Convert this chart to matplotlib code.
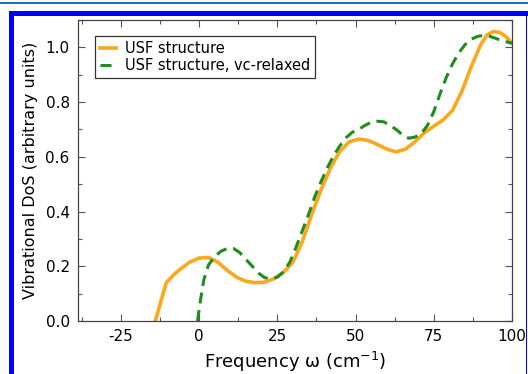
"""
Vibrational density of states for the USF structure, before and after
variable-cell relaxation.
"""

import matplotlib.pyplot as plt
from matplotlib.patches import Rectangle
from matplotlib.ticker import MultipleLocator

plt.rcParams["font.family"] = ["DejaVu Sans"]
plt.rcParams["axes.unicode_minus"] = False

# %% Data
usf_freq = [
    -14.0, -12.0, -10.5, -8.0, -6.0, -3.0, 0.0, 3.0, 6.0, 9.0, 12.0, 15.0,
    18.0, 21.0, 24.0, 27.0, 30.0, 33.0, 36.0, 39.0, 42.0, 45.0, 48.0, 51.0,
    54.0, 57.0, 60.0, 63.0, 66.0, 69.0, 72.0, 75.0, 78.0, 81.0, 84.0, 87.0,
    90.0, 92.0, 94.0, 96.0, 98.0, 100.0,
]
usf_dos = [
    0.000, 0.080, 0.140, 0.170, 0.190, 0.215, 0.230, 0.232, 0.215, 0.185,
    0.160, 0.145, 0.140, 0.142, 0.155, 0.178, 0.215, 0.290, 0.390, 0.480,
    0.560, 0.620, 0.655, 0.665, 0.660, 0.645, 0.628, 0.618, 0.628, 0.655,
    0.688, 0.712, 0.735, 0.770, 0.840, 0.930, 1.010, 1.045, 1.058, 1.055,
    1.040, 1.015,
]

relaxed_freq = [
    -0.5, 0.5, 1.5, 3.0, 5.0, 7.0, 9.0, 11.0, 13.0, 15.0, 17.0, 19.0, 21.0,
    23.0, 25.0, 27.0, 29.0, 31.0, 33.0, 35.0, 37.0, 39.0, 41.0, 43.0, 45.0,
    47.0, 49.0, 51.0, 53.0, 55.0, 57.0, 59.0, 61.0, 63.0, 65.0, 67.0, 69.0,
    71.0, 73.0, 75.0, 77.0, 79.0, 81.0, 83.0, 85.0, 87.0, 89.0, 91.0, 93.0,
    95.0, 97.0, 99.0, 100.0,
]
relaxed_dos = [
    0.000, 0.080, 0.150, 0.205, 0.235, 0.255, 0.265, 0.265, 0.250, 0.225,
    0.200, 0.175, 0.158, 0.155, 0.160, 0.180, 0.215, 0.270, 0.330, 0.390,
    0.455, 0.510, 0.560, 0.605, 0.640, 0.670, 0.690, 0.700, 0.715, 0.726,
    0.730, 0.728, 0.715, 0.700, 0.680, 0.668, 0.672, 0.685, 0.715, 0.765,
    0.830, 0.890, 0.940, 0.980, 1.010, 1.030, 1.040, 1.044, 1.040, 1.032,
    1.024, 1.018, 1.015,
]

# %% Figure
fig = plt.figure(figsize=(5.28, 3.74), dpi=100)
ax = fig.add_axes([78 / 528, 1 - 321 / 374, (512 - 78) / 528, (321 - 20) / 374])

ax.plot(usf_freq, usf_dos, color="#fba81c", linewidth=2.6, label="USF structure")
ax.plot(
    relaxed_freq,
    relaxed_dos,
    color="#1e8c1e",
    linewidth=2.2,
    dashes=(3.6, 2.2),
    label="USF structure, vc-relaxed",
)

ax.set_xlim(-38.7, 100)
ax.set_ylim(0, 1.1)
ax.xaxis.set_major_locator(MultipleLocator(25))
ax.xaxis.set_minor_locator(MultipleLocator(12.5))
ax.yaxis.set_major_locator(MultipleLocator(0.2))
ax.yaxis.set_minor_locator(MultipleLocator(0.1))
ax.yaxis.set_major_formatter(plt.FormatStrFormatter("%.1f"))

ax.tick_params(which="both", direction="in", top=True, right=True,
               color="#555555", labelsize=11, width=0.8)
ax.tick_params(which="major", length=5, pad=6)
ax.tick_params(which="minor", length=3)
for spine in ax.spines.values():
    spine.set_color("#444444")
    spine.set_linewidth(0.9)

ax.set_xlabel("Frequency ω (cm$^{-1}$)", fontsize=13, labelpad=4)
ax.set_ylabel("Vibrational DoS (arbitrary units)", fontsize=11.5, labelpad=5)

leg = ax.legend(
    loc="upper left",
    bbox_to_anchor=(0.039, 0.947),
    borderaxespad=0,
    fontsize=10.5,
    handlelength=1.1,
    handletextpad=0.6,
    borderpad=0.35,
    labelspacing=0.15,
    fancybox=False,
    framealpha=1,
    edgecolor="#333333",
)
leg.get_frame().set_linewidth(0.9)

# blue page frame around the figure
W, H = 528, 374
fig.add_artist(Rectangle((0, 1 - 4 / H), 1, 1.5 / H, transform=fig.transFigure,
                         color="#2a6ab8", lw=0))
fig.add_artist(Rectangle((9 / W, 1 - 16 / H), 1 - 9 / W, 4.5 / H,
                         transform=fig.transFigure, color="#0000ff", lw=0))
fig.add_artist(Rectangle((9 / W, 0), 4.5 / W, 1 - 12 / H,
                         transform=fig.transFigure, color="#0000ff", lw=0))
fig.add_artist(Rectangle((525.5 / W, 0), 1.5 / W, 1 - 12 / H,
                         transform=fig.transFigure, color="#0000ff", lw=0))

fig.savefig("out.png", dpi=100)
